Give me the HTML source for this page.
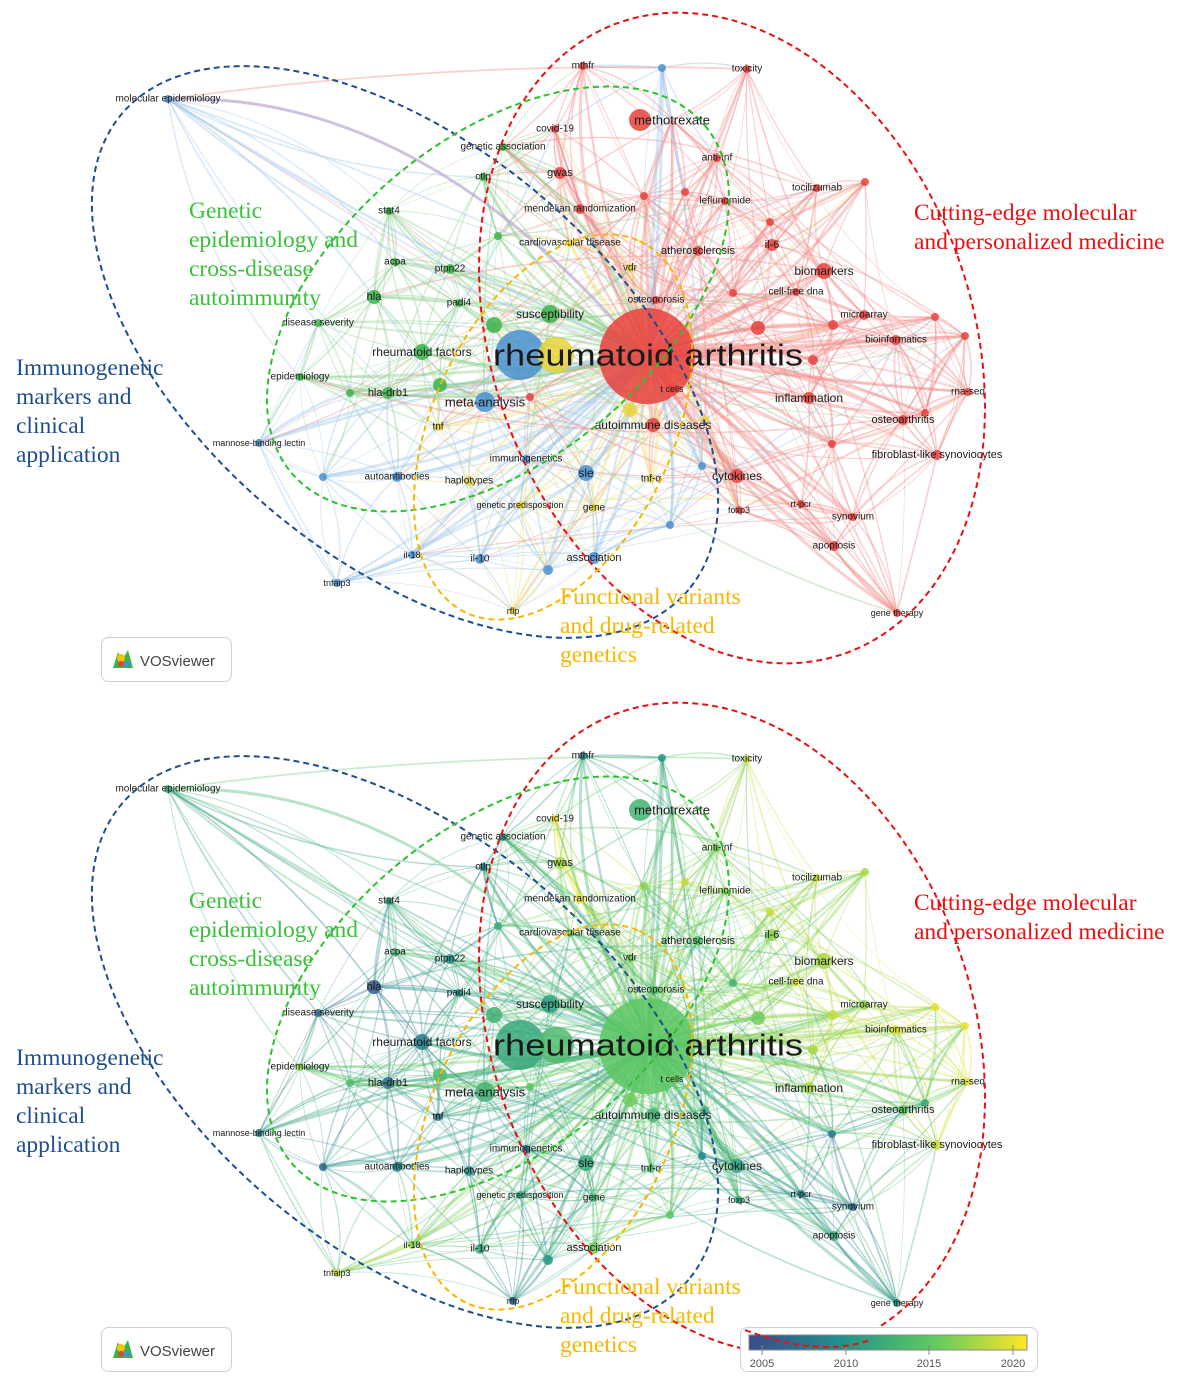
<!DOCTYPE html>
<html><head><meta charset="utf-8"><style>
html,body{margin:0;padding:0;background:#fff;}
svg{display:block;}
.l{font-family:"Liberation Sans",sans-serif;fill:#1a1a1a;text-anchor:middle;dominant-baseline:central;}
.a{font-family:"Liberation Serif",serif;font-size:23.5px;}
</style></head><body>
<svg id="s" width="1183" height="1385" viewBox="0 0 1183 1385" xmlns="http://www.w3.org/2000/svg">
<g id="g0"></g><g id="g1" transform="translate(0,690)"></g>
</svg>
<script>
var N=[
["methotrexate",672,120,"r",11,13,2013,640],
["mthfr",583,66,"r",4,10,2008],
["toxicity",747,69,"r",4,10,2019],
["covid-19",555,129,"r",4,10,2021],
["genetic association",503,147,"g",4,10,2010],
["anti-tnf",717,158,"r",4,10,2016],
["gwas",560,173,"r",6,11,2018],
["tocilizumab",817,188,"r",4,10,2019],
["ctlp",483,177,"g",4,10,2008],
["leflunomide",725,201,"r",4,10,2017],
["mendelian randomization",580,209,"r",5,10,2021],
["stat4",389,211,"g",4,10,2012],
["cardiovascular disease",570,243,"y",4,10,2015],
["atherosclerosis",698,251,"r",5,11,2014],
["il-6",772,245,"r",6,11,2017],
["biomarkers",824,271,"r",8,12,2018],
["acpa",395,262,"g",4,10,2014],
["ptpn22",450,269,"g",5,10,2010],
["vdr",630,268,"y",4,10,2016],
["cell-free dna",796,292,"r",4,10,2020],
["hla",374,297,"g",7,11,2005],
["padi4",459,303,"g",4,10,2010],
["osteoporosis",656,300,"r",4,10,2015],
["susceptibility",550,314,"g",9,12,2011],
["microarray",864,315,"r",5,10,2017],
["disease severity",318,323,"g",4,10,2006],
["bioinformatics",896,340,"r",5,10,2020],
["rheumatoid factors",422,352,"g",8,12,2008],
["epidemiology",300,377,"g",4,10,2017],
["hla-drb1",388,393,"g",6,11,2007],
["meta-analysis",485,402,"b",10,13,2013],
["inflammation",809,398,"r",6,12,2018],
["rna-seq",968,392,"r",4,10,2020],
["t cells",672,389,"r",4,9,2016],
["tnf",438,427,"y",4,10,2008],
["autoimmune diseases",653,425,"r",7,12,2013],
["osteoarthritis",903,420,"r",5,11,2015],
["mannose-binding lectin",259,443,"b",4,9,2008],
["fibroblast-like synoviocytes",937,455,"r",5,11,2019],
["immunogenetics",526,459,"b",4,10,2007],
["sle",586,473,"b",8,12,2012],
["tnf-α",651,479,"y",4,10,2014],
["cytokines",737,476,"r",7,12,2011],
["autoantibodies",397,477,"b",5,10,2009],
["haplotypes",469,481,"y",5,10,2010],
["genetic predisposition",520,505,"y",4,9,2012],
["gene",594,508,"y",4,10,2013],
["foxp3",739,510,"r",4,9,2012],
["rt-pcr",801,504,"r",4,9,2008],
["synovium",853,517,"r",4,10,2006],
["apoptosis",834,546,"r",5,10,2012],
["il-18",412,555,"b",4,9,2017],
["il-10",480,559,"b",5,10,2012],
["association",594,558,"b",6,11,2016],
["tnfaip3",337,583,"b",4,9,2019],
["rflp",513,611,"y",4,9,2006],
["gene therapy",897,613,"r",4,9,2009],
["molecular epidemiology",168,99,"b",4,10,2012],
["",323,477,"b",4,0,2006],["",548,570,"b",5,0,2010],["",670,525,"b",4,0,2015],["",702,466,"b",4,0,2009],
["",758,328,"r",7,0,2016],["",833,325,"r",5,0,2019],["",813,360,"r",5,0,2018],["",935,317,"r",4,0,2020],
["",965,336,"r",4,0,2020],["",865,182,"r",4,0,2018],["",733,293,"r",4,0,2013],["",770,222,"r",4,0,2019],
["",440,385,"g",7,0,2014],["",494,325,"g",8,0,2013],["",350,393,"g",4,0,2014],["",630,410,"y",7,0,2016],
["",530,397,"r",4,0,2015],["",498,236,"g",4,0,2012],["",925,413,"r",4,0,2012],["",832,444,"r",4,0,2008],
["",644,196,"r",4,0,2017],["",685,192,"r",4,0,2019],["",662,68,"b",4,0,2010],["",705,420,"y",4,0,2013]
];
var CC={r:"#e8413c",g:"#3cb44b",b:"#4a90d0",y:"#e6d33a"};
var EC={r:"#f08a86",g:"#8fd08f",b:"#9cc3ea",y:"#eee080"};
function vir(y){var t=Math.max(0,Math.min(1,(y-2004)/17));var st=[[59,74,140],[33,145,140],[94,201,98],[253,231,37]];var p=t*3,i=Math.min(2,Math.floor(p)),f=p-i;var a=st[i],b=st[i+1];return"rgb("+[0,1,2].map(function(k){return Math.round(a[k]+(b[k]-a[k])*f)}).join(",")+")";}
var seed=7;function rnd(){seed=(seed*16807)%2147483647;return seed/2147483647;}
function build(gid,mode){
 seed=7;var g=document.getElementById(gid);var h="";
 var RA=[648,355];
 var E=[];
 N.forEach(function(n,i){E.push([i,-1]);E.push([i,-1]);
  var d=N.map(function(m,j){return [Math.hypot(m[1]-n[1],m[2]-n[2]),j];}).sort(function(a,b){return a[0]-b[0];});
  for(var k=1;k<=7;k++)E.push([i,d[k][1]]);
  for(var k=0;k<4;k++){var j=Math.floor(rnd()*N.length);if(j!=i&&(N[j][3]==n[3]||rnd()<0.4))E.push([i,j]);}
 });
 E.forEach(function(e){var a=N[e[0]],b=e[1]<0?["",RA[0],RA[1],"r",0,0,2015]:N[e[1]];if(a===b)return;
  var mx=(a[1]+b[1])/2,my=(a[2]+b[2])/2,dx=b[1]-a[1],dy=b[2]-a[2];var c=(rnd()-0.5)*0.35;
  var cx=mx-dy*c,cy=my+dx*c;
  var col=mode?vir((a[6]+b[6])/2):EC[a[3]];
  var w=e[1]<0?(1.2+rnd()*2.2):(0.6+rnd()*1.2);
  h+='<path d="M'+a[1]+','+a[2]+' Q'+cx.toFixed(1)+','+cy.toFixed(1)+' '+b[1]+','+b[2]+'" fill="none" stroke="'+col+'" stroke-width="'+w.toFixed(1)+'" stroke-opacity="'+(mode?0.35:0.4)+'"/>';});
 h+='<path d="M168,99 Q420,90 640,350" fill="none" stroke="'+(mode?"#9ad8b0":"#b9a8d0")+'" stroke-width="3" stroke-opacity="0.7"/>';
 h+='<circle cx="520" cy="355" r="25" fill="'+(mode?vir(2012):CC.b)+'" fill-opacity="0.85"/>';
 h+='<circle cx="556" cy="355" r="18" fill="'+(mode?vir(2014):CC.y)+'" fill-opacity="0.85"/>';
 h+='<circle cx="647" cy="356" r="48" fill="'+(mode?vir(2015):CC.r)+'" fill-opacity="0.85"/>';
 N.forEach(function(n){var x=n[7]||n[1];h+='<circle cx="'+x+'" cy="'+n[2]+'" r="'+n[4]+'" fill="'+(mode?vir(n[6]):CC[n[3]])+'" fill-opacity="0.85"/>';});
 N.forEach(function(n){if(n[0])h+='<text class="l" x="'+n[1]+'" y="'+n[2]+'" font-size="'+n[5]+'">'+n[0]+'</text>';});
 h+='<text class="l" x="648" y="355" font-size="31" textLength="310" lengthAdjust="spacingAndGlyphs">rheumatoid arthritis</text>';
 h+='<ellipse cx="405" cy="352" rx="370" ry="207" transform="rotate(40 405 352)" fill="none" stroke="#1f4e8c" stroke-width="2" stroke-dasharray="6,4"/>';
 h+='<ellipse cx="732" cy="338" rx="240" ry="335" transform="rotate(-20 732 338)" fill="none" stroke="#e81010" stroke-width="2" stroke-dasharray="6,4"/>';
 h+='<ellipse cx="498" cy="299" rx="270" ry="160" transform="rotate(-40 498 299)" fill="none" stroke="#2ec02e" stroke-width="2" stroke-dasharray="6,4"/>';
 h+='<ellipse cx="553" cy="427" rx="205" ry="120" transform="rotate(-65 553 427)" fill="none" stroke="#f5b800" stroke-width="2" stroke-dasharray="6,4"/>';
 function T(x,y,col,ls){var s='<text class="a" fill="'+col+'">';ls.forEach(function(l,i){s+='<tspan x="'+x+'" y="'+(y+i*29)+'">'+l+'</tspan>';});return s+'</text>';}
 h+=T(189,218,"#3cc03c",["Genetic","epidemiology and","cross-disease","autoimmunity"]);
 h+=T(16,375,"#1f4e8c",["Immunogenetic","markers and","clinical","application"]);
 h+=T(914,220,"#e81010",["Cutting-edge molecular","and personalized medicine"]);
 h+=T(560,604,"#f5b800",["Functional variants","and drug-related","genetics"]);
 h+='<rect x="101.5" y="637.5" width="130" height="44" rx="7" fill="#fff" stroke="#d0d0d0"/>';
 h+='<path d="M113,668 L118,652 L122,660 L128,650 L133,668 Z" fill="#3cb44b"/><circle cx="121" cy="658" r="4" fill="#f5c400"/><circle cx="121" cy="664" r="3" fill="#e8413c"/><circle cx="127" cy="664" r="3" fill="#4a90d0"/>';
 h+='<text x="140" y="666" font-family="Liberation Sans,sans-serif" font-size="15" fill="#444">VOSviewer</text>';
 if(mode){
  h+='<rect x="740.5" y="637.5" width="297" height="44" rx="7" fill="#fff" stroke="#d0d0d0"/>';
  h+='<defs><linearGradient id="cb"><stop offset="0" stop-color="#3b4a8c"/><stop offset="0.33" stop-color="#21918c"/><stop offset="0.66" stop-color="#5ec962"/><stop offset="1" stop-color="#fde725"/></linearGradient></defs>';
  h+='<rect x="749" y="645" width="278" height="15" fill="url(#cb)" stroke="#888"/>';
  [[762,"2005"],[846,"2010"],[929,"2015"],[1013,"2020"]].forEach(function(t){h+='<line x1="'+t[0]+'" y1="655" x2="'+t[0]+'" y2="665" stroke="#888"/><text x="'+t[0]+'" y="677" text-anchor="middle" font-family="Liberation Sans,sans-serif" font-size="11" fill="#555">'+t[1]+'</text>';});
  h+='<path d="M745,640 Q820,668 870,650" fill="none" stroke="#e81010" stroke-width="2" stroke-dasharray="6,4"/>';
 }
 g.innerHTML=h;
}
build("g0",0);build("g1",1);
</script>
</body></html>
